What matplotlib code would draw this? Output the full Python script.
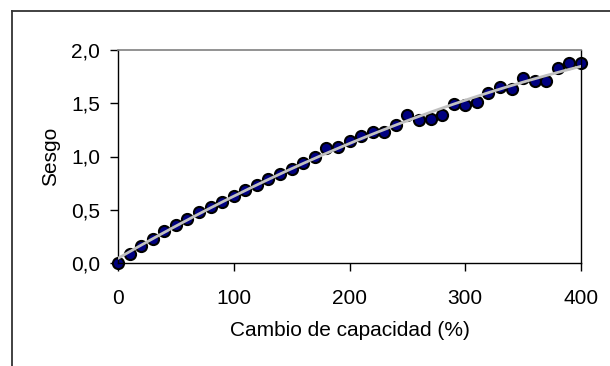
import numpy as np
import matplotlib.pyplot as plt
from matplotlib.lines import Line2D
from matplotlib.ticker import FuncFormatter

plt.rcParams['font.family'] = ['Liberation Sans', 'DejaVu Sans']

# Data
cambio = [0, 10, 20, 30, 40, 50, 60, 70, 80, 90,
          100, 110, 120, 130, 140, 150, 160, 170, 180, 190,
          200, 210, 220, 230, 240, 250, 260, 270, 280, 290,
          300, 310, 320, 330, 340, 350, 360, 370, 380, 390, 400]
sesgo = [0.00, 0.085, 0.157, 0.23, 0.30, 0.357, 0.416, 0.476, 0.53, 0.576,
         0.632, 0.685, 0.73, 0.79, 0.84, 0.88, 0.94, 1.00, 1.08, 1.085,
         1.145, 1.19, 1.23, 1.23, 1.295, 1.39, 1.34, 1.35, 1.39, 1.496,
         1.48, 1.515, 1.60, 1.655, 1.634, 1.737, 1.71, 1.706, 1.834, 1.875, 1.878]
x_ticks = [0, 100, 200, 300, 400]
y_ticks = [0.0, 0.5, 1.0, 1.5, 2.0]

W, H = 610, 366
fs = 15
fig = plt.figure(figsize=(W / 100, H / 100), dpi=100)
ax = fig.add_axes([118 / W, (H - 263) / H, (581 - 118) / W, (263 - 50) / H])

# polynomial trend line, as in the spreadsheet chart
coef = np.polyfit(cambio, sesgo, 2)
xt = np.linspace(0, 400, 200)
ax.plot(xt, np.polyval(coef, xt), color='#c0c0c0', lw=2.0, zorder=3)
ax.plot(cambio, sesgo, 'o', ms=8, mfc='#000080', mec='black', mew=1.5,
        zorder=2, clip_on=False)

ax.set_xlim(0, 400)
ax.set_ylim(0, 2.0)
ax.set_xticks(x_ticks)
ax.set_yticks(y_ticks)
ax.yaxis.set_major_formatter(FuncFormatter(lambda v, p: f'{v:.1f}'.replace('.', ',')))
ax.tick_params(axis='y', direction='out', length=6, width=1, pad=7, labelsize=fs)
ax.tick_params(axis='x', direction='out', length=6, width=1, pad=13, labelsize=fs)

for s in ['left', 'bottom', 'right']:
    ax.spines[s].set_color('black')
    ax.spines[s].set_linewidth(1.0)
ax.spines['top'].set_color('#808080')
ax.spines['top'].set_linewidth(1.2)

ax.set_xlabel('Cambio de capacidad (%)', fontsize=fs)
ax.set_ylabel('Sesgo', fontsize=fs)
ax.xaxis.set_label_coords(0.5, -0.27)
ax.yaxis.set_label_coords(-0.125, 0.5)

# outer chart frame (only the left and top edges are visible)
fig.add_artist(Line2D([12 / W, 12 / W], [0, 1 - 11 / H], transform=fig.transFigure,
                      color='#333333', lw=1.3))
fig.add_artist(Line2D([12 / W, 1], [1 - 11 / H, 1 - 11 / H], transform=fig.transFigure,
                      color='#333333', lw=1.3))

fig.savefig('out.png', dpi=100)
